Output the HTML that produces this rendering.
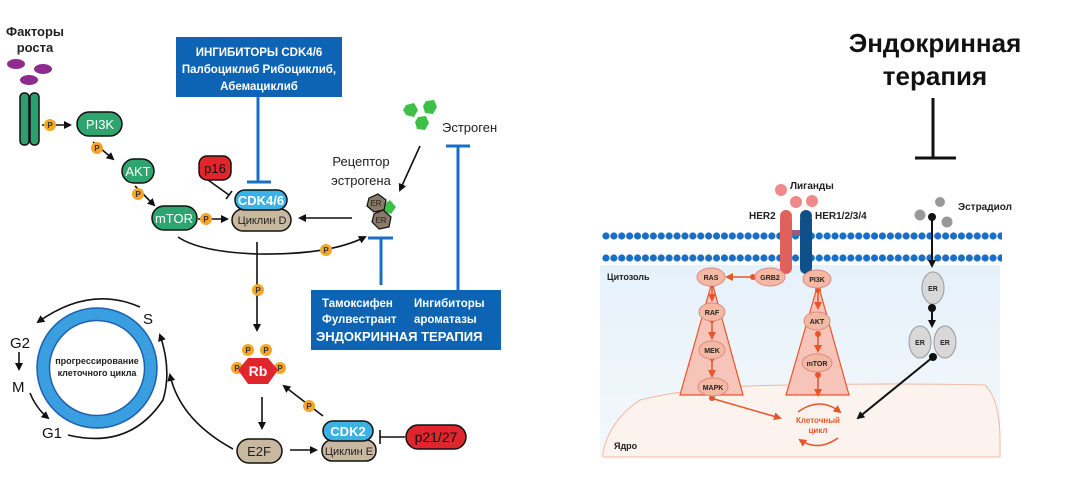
<!DOCTYPE html>
<html><head><meta charset="utf-8"><style>
html,body{margin:0;padding:0;background:#fff;}
svg{display:block;font-family:"Liberation Sans",sans-serif;}
</style></head><body>
<svg width="1080" height="487" viewBox="0 0 1080 487" xmlns="http://www.w3.org/2000/svg">
<defs>
<marker id="ab" markerWidth="8" markerHeight="8" refX="6" refY="4" orient="auto" markerUnits="userSpaceOnUse"><path d="M0,0 L8,4 L0,8 Z" fill="#111"/></marker>
<marker id="ao" markerWidth="8" markerHeight="8" refX="6" refY="4" orient="auto" markerUnits="userSpaceOnUse"><path d="M0,0 L8,4 L0,8 Z" fill="#e8552b"/></marker>
<linearGradient id="cyt" x1="0" y1="0" x2="0" y2="1"><stop offset="0" stop-color="#e6f1fa"/><stop offset="1" stop-color="#f4f8fc"/></linearGradient>
<pattern id="mem" x="602" y="232" width="7.9" height="22" patternUnits="userSpaceOnUse"><circle cx="3.95" cy="4" r="3.6" fill="#1a6fc4"/></pattern>
</defs>
<g font-weight="bold">
<!-- LEFT -->
<text x="35" y="36" font-size="13" text-anchor="middle" fill="#222">Факторы</text>
<text x="35" y="52" font-size="13" text-anchor="middle" fill="#222">роста</text>
<ellipse cx="16" cy="64" rx="9" ry="5" fill="#8e2b8e"/>
<ellipse cx="43" cy="69" rx="9" ry="5" fill="#8e2b8e"/>
<ellipse cx="29" cy="80" rx="9" ry="5" fill="#8e2b8e"/>
<rect x="20" y="93" width="9" height="52" rx="4" fill="#2e9e6e" stroke="#111" stroke-width="1.5"/>
<rect x="30" y="93" width="9" height="52" rx="4" fill="#2e9e6e" stroke="#111" stroke-width="1.5"/>
<g stroke="#111" stroke-width="1.6" fill="none">
<line x1="42" y1="125" x2="70" y2="125" marker-end="url(#ab)"/>
<line x1="93" y1="142" x2="113" y2="159" marker-end="url(#ab)"/>
<line x1="135" y1="186" x2="154" y2="205" marker-end="url(#ab)"/>
<line x1="198" y1="219" x2="227" y2="219" marker-end="url(#ab)"/>
<line x1="352" y1="218" x2="300" y2="218" marker-end="url(#ab)"/>
<line x1="420" y1="146" x2="400" y2="190" marker-end="url(#ab)"/>
<path d="M178 237 Q200 252 258 254 Q330 255 365 237" marker-end="url(#ab)"/>
<line x1="257" y1="242" x2="257" y2="330" marker-end="url(#ab)"/>
<line x1="262" y1="397" x2="262" y2="428" marker-end="url(#ab)"/>
<line x1="290" y1="450" x2="316" y2="450" marker-end="url(#ab)"/>
<line x1="323" y1="416" x2="284" y2="386" marker-end="url(#ab)"/>
<line x1="208" y1="180" x2="229" y2="195"/>
<line x1="226" y1="199" x2="232" y2="191"/>
<line x1="405" y1="437" x2="380" y2="437"/>
<line x1="380" y1="430" x2="380" y2="444"/>
<path d="M233 449 Q180 420 170 375" marker-end="url(#ab)"/>
<path d="M140 307 Q90 285 38 322" marker-end="url(#ab)"/>
<line x1="19" y1="352" x2="19" y2="369" marker-end="url(#ab)"/>
<path d="M30 393 Q36 408 48 418" marker-end="url(#ab)"/>
<path d="M68 435 Q130 450 163 400 Q172 370 160 335" marker-end="url(#ab)"/>
</g>
<g font-size="8" text-anchor="middle" fill="#333">
<circle cx="50" cy="125" r="6" fill="#f5a623"/><text x="50" y="128">P</text>
<circle cx="97" cy="148" r="6" fill="#f5a623"/><text x="97" y="151">P</text>
<circle cx="138" cy="194" r="6" fill="#f5a623"/><text x="138" y="197">P</text>
<circle cx="206" cy="219" r="6" fill="#f5a623"/><text x="206" y="222">P</text>
<circle cx="326" cy="250" r="6" fill="#f5a623"/><text x="326" y="253">P</text>
<circle cx="258" cy="290" r="6" fill="#f5a623"/><text x="258" y="293">P</text>
<circle cx="309" cy="406" r="6" fill="#f5a623"/><text x="309" y="409">P</text>
<circle cx="248" cy="350" r="6" fill="#f5a623"/><text x="248" y="353">P</text>
<circle cx="266" cy="350" r="6" fill="#f5a623"/><text x="266" y="353">P</text>
<circle cx="237" cy="368" r="6" fill="#f5a623"/><text x="237" y="371">P</text>
<circle cx="280" cy="368" r="6" fill="#f5a623"/><text x="280" y="371">P</text>
</g>
<g font-size="13" text-anchor="middle" font-weight="normal">
<rect x="77" y="112" width="45" height="24" rx="12" fill="#2ea56f" stroke="#111" stroke-width="1.5"/><text x="100" y="129" fill="#fff">PI3K</text>
<rect x="122" y="159" width="32" height="24" rx="12" fill="#2ea56f" stroke="#111" stroke-width="1.5"/><text x="138" y="176" fill="#fff">AKT</text>
<rect x="152" y="206" width="45" height="24" rx="12" fill="#2ea56f" stroke="#111" stroke-width="1.5"/><text x="174" y="223" fill="#fff">mTOR</text>
<rect x="199" y="156" width="32" height="24" rx="8" fill="#e0252b" stroke="#111" stroke-width="1.5"/><text x="215" y="173" fill="#111">p16</text>
<rect x="232" y="209" width="59" height="22" rx="11" fill="#c8b8a0" stroke="#111" stroke-width="1.5"/><text x="262" y="224" font-size="11" fill="#222">Циклин D</text>
<rect x="235" y="190" width="52" height="20" rx="10" fill="#3cb1e6" stroke="#111" stroke-width="1.5"/><text x="261" y="205" fill="#fff" font-weight="bold">CDK4/6</text>
<rect x="237" y="439" width="45" height="24" rx="12" fill="#c8b8a0" stroke="#111" stroke-width="1.5"/><text x="259" y="456" fill="#222">E2F</text>
<rect x="322" y="440" width="54" height="21" rx="10" fill="#c8b8a0" stroke="#111" stroke-width="1.5"/><text x="349" y="455" font-size="11" fill="#222">Циклин E</text>
<rect x="323" y="421" width="50" height="20" rx="10" fill="#3cb1e6" stroke="#111" stroke-width="1.5"/><text x="348" y="436" fill="#fff" font-weight="bold">CDK2</text>
<rect x="406" y="425" width="60" height="24" rx="12" fill="#e0252b" stroke="#111" stroke-width="1.5"/><text x="436" y="442" fill="#111" font-size="14">p21/27</text>
</g>
<polygon points="248,358 268,358 278,370 268,384 248,384 238,370" fill="#e0252b"/>
<text x="258" y="376" font-size="14" text-anchor="middle" fill="#fff">Rb</text>
<g fill="#3fbf4a"><polygon points="406,105 414,103 418,110 414,117 406,115 403,110"/><polygon points="426,101 434,100 437,107 433,114 425,113 423,106"/><polygon points="418,117 426,116 429,123 425,130 417,129 415,122"/><polygon points="383,205 390,200 396,207 391,214 384,212"/></g>
<g fill="#8a7a68" stroke="#111" stroke-width="1.2"><polygon points="369,198 378,194 386,200 384,210 374,212 367,206"/><polygon points="374,214 383,210 391,217 389,227 379,229 372,222"/></g>
<text x="376" y="206" font-size="8" text-anchor="middle" fill="#222" font-weight="normal">ER</text>
<text x="381" y="223" font-size="8" text-anchor="middle" fill="#222" font-weight="normal">ER</text>
<g font-weight="normal" font-size="13" fill="#222">
<text x="442" y="132">Эстроген</text>
<text x="361" y="166" text-anchor="middle">Рецептор</text>
<text x="361" y="185" text-anchor="middle">эстрогена</text>
</g>
<rect x="176" y="37" width="166" height="60" fill="#0e64b4"/>
<g fill="#fff" font-size="11.5" text-anchor="middle"><text x="259" y="56">ИНГИБИТОРЫ CDK4/6</text><text x="259" y="73">Палбоциклиб Рибоциклиб,</text><text x="259" y="90">Абемациклиб</text></g>
<rect x="311" y="290" width="190" height="60" fill="#0e64b4"/>
<g fill="#fff" font-size="11.5"><text x="322" y="307">Тамоксифен</text><text x="414" y="307">Ингибиторы</text><text x="322" y="323">Фулвестрант</text><text x="414" y="323">ароматазы</text><text x="316" y="341" font-size="13">ЭНДОКРИННАЯ ТЕРАПИЯ</text></g>
<g stroke="#1a6fc4" stroke-width="3" fill="none">
<line x1="258" y1="97" x2="258" y2="182"/><line x1="247" y1="182" x2="271" y2="182"/>
<line x1="458" y1="146" x2="458" y2="290"/><line x1="446" y1="146" x2="470" y2="146"/>
<line x1="381" y1="238" x2="381" y2="285"/><line x1="368" y1="238" x2="393" y2="238"/>
</g>
<circle cx="97" cy="368" r="54" fill="none" stroke="#3a9fe0" stroke-width="13"/>
<circle cx="97" cy="368" r="60" fill="none" stroke="#1f5fb0" stroke-width="1.5"/>
<circle cx="97" cy="368" r="47.5" fill="none" stroke="#1f5fb0" stroke-width="1.5"/>
<text x="97" y="364" font-size="9" text-anchor="middle" fill="#222">прогрессирование</text>
<text x="97" y="376" font-size="9" text-anchor="middle" fill="#222">клеточного цикла</text>
<g font-size="15" fill="#111" font-weight="normal"><text x="10" y="348">G2</text><text x="12" y="392">M</text><text x="42" y="438">G1</text><text x="143" y="324">S</text></g>

<!-- RIGHT -->
<text x="935" y="52" font-size="26" text-anchor="middle" fill="#111">Эндокринная</text>
<text x="935" y="85" font-size="26" text-anchor="middle" fill="#111">терапия</text>
<line x1="933" y1="98" x2="933" y2="158" stroke="#111" stroke-width="3"/>
<line x1="915" y1="158" x2="956" y2="158" stroke="#111" stroke-width="3"/>
<rect x="600" y="265" width="400" height="192" fill="url(#cyt)"/>
<path d="M603 452 Q610 420 640 400 Q700 385 800 385 Q900 383 985 385 Q1000 400 1000 440 L1000 457 L603 457 Z" fill="#fcf3ef" stroke="#f0b8a0" stroke-width="1"/>
<rect x="602" y="232" width="400" height="30" fill="url(#mem)"/>
<rect x="780" y="214" width="12" height="58" rx="6" fill="#e0605c"/>
<circle cx="786" cy="216" r="6" fill="#e0605c"/><circle cx="786" cy="268" r="6" fill="#e0605c"/>
<rect x="800" y="214" width="12" height="58" rx="6" fill="#0f4f8a"/>
<circle cx="806" cy="216" r="6" fill="#0f4f8a"/><circle cx="806" cy="268" r="6" fill="#0f4f8a"/>
<rect x="792" y="230" width="8" height="6" fill="#9a5a7a"/>
<g fill="#f08a8a"><circle cx="781" cy="190" r="6"/><circle cx="796" cy="202" r="6"/><circle cx="812" cy="201" r="6"/></g>
<g font-size="10" fill="#222"><text x="790" y="189">Лиганды</text><text x="749" y="219">HER2</text><text x="815" y="219">HER1/2/3/4</text><text x="958" y="210">Эстрадиол</text><text x="607" y="280" font-size="9">Цитозоль</text><text x="614" y="449" font-size="9">Ядро</text></g>
<polygon points="712,282 680,395 743,395" fill="#f6c4b8" stroke="#e8552b" stroke-width="1.2"/>
<polygon points="818,284 786,395 849,395" fill="#f6c4b8" stroke="#e8552b" stroke-width="1.2"/>
<g stroke="#e8552b" stroke-width="1.5" fill="none">
<line x1="762" y1="277" x2="727" y2="277" marker-end="url(#ao)"/>
<line x1="712" y1="286" x2="712" y2="300" marker-end="url(#ao)"/>
<line x1="712" y1="322" x2="712" y2="338" marker-end="url(#ao)"/>
<line x1="712" y1="360" x2="712" y2="376" marker-end="url(#ao)"/>
<line x1="818" y1="290" x2="818" y2="308" marker-end="url(#ao)"/>
<line x1="818" y1="335" x2="818" y2="351" marker-end="url(#ao)"/>
<line x1="818" y1="376" x2="818" y2="395" marker-end="url(#ao)"/>
<line x1="714" y1="399" x2="780" y2="418" marker-end="url(#ao)"/>
<path d="M798 412 Q820 396 840 412" marker-end="url(#ao)"/>
<path d="M838 438 Q818 452 800 440" marker-end="url(#ao)"/>
</g>
<g fill="#e8552b"><circle cx="712" cy="285" r="3"/><circle cx="712" cy="320" r="3"/><circle cx="712" cy="358" r="3"/><circle cx="712" cy="398" r="3"/><circle cx="818" cy="290" r="3"/><circle cx="818" cy="334" r="3"/><circle cx="818" cy="375" r="3"/><circle cx="753" cy="277" r="3"/></g>
<g fill="#f4b9a2" stroke="#d88" stroke-width="1">
<ellipse cx="711" cy="277" rx="14" ry="9"/><ellipse cx="770" cy="277" rx="15" ry="9"/><ellipse cx="817" cy="279" rx="14" ry="9"/>
<ellipse cx="712" cy="312" rx="13" ry="9"/><ellipse cx="712" cy="350" rx="13" ry="9"/><ellipse cx="713" cy="387" rx="15" ry="9"/>
<ellipse cx="817" cy="321" rx="13" ry="9"/><ellipse cx="817" cy="363" rx="15" ry="9"/>
</g>
<g font-size="7" text-anchor="middle" fill="#222">
<text x="711" y="280">RAS</text><text x="770" y="280">GRB2</text><text x="817" y="282">PI3K</text><text x="712" y="315">RAF</text><text x="712" y="353">MEK</text><text x="713" y="390">MAPK</text><text x="817" y="324">AKT</text><text x="817" y="366">mTOR</text>
</g>
<g font-size="8" text-anchor="middle" fill="#e8552b"><text x="818" y="423">Клеточный</text><text x="818" y="433">цикл</text></g>
<g fill="#999"><circle cx="940" cy="202" r="5"/><circle cx="920" cy="215" r="5.5"/><circle cx="947" cy="222" r="5.5"/></g>
<line x1="932" y1="218" x2="932" y2="266" stroke="#111" stroke-width="2" marker-end="url(#ab)"/>
<circle cx="932" cy="217" r="4" fill="#111"/>
<ellipse cx="933" cy="288" rx="11" ry="16" fill="#d8d8d8" stroke="#999"/>
<text x="933" y="291" font-size="7" text-anchor="middle" fill="#222">ER</text>
<circle cx="932" cy="308" r="4" fill="#111"/>
<line x1="932" y1="310" x2="932" y2="326" stroke="#111" stroke-width="2" marker-end="url(#ab)"/>
<ellipse cx="920" cy="342" rx="11" ry="16" fill="#d8d8d8" stroke="#999"/>
<ellipse cx="945" cy="342" rx="11" ry="16" fill="#d8d8d8" stroke="#999"/>
<text x="920" y="345" font-size="7" text-anchor="middle" fill="#222">ER</text>
<text x="945" y="345" font-size="7" text-anchor="middle" fill="#222">ER</text>
<circle cx="933" cy="357" r="4" fill="#111"/>
<line x1="933" y1="357" x2="858" y2="418" stroke="#111" stroke-width="2" marker-end="url(#ab)"/>
</g>
</svg>
</body></html>
